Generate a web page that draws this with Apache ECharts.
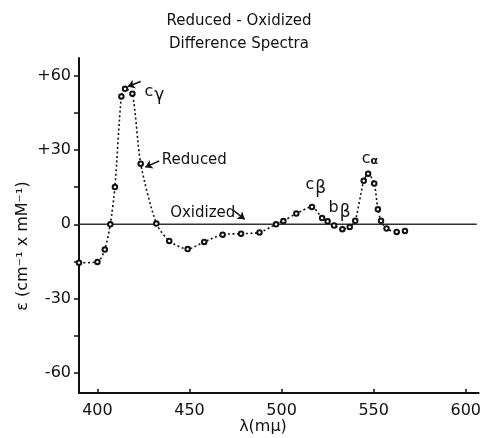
<!DOCTYPE html>
<html>
<head>
<meta charset="utf-8">
<script src="https://cdn.jsdelivr.net/npm/echarts@6/dist/echarts.min.js"></script>
<style>
  html, body { margin: 0; padding: 0; background: #fff; }
  #chart { width: 484px; height: 438px; }
</style>
</head>
<body>
<div id="chart"></div>
<script>
"use strict";
// wavelength (m\u03bc) and extinction difference
const wavelengths = [390, 400, 404, 407, 409.5, 413, 415, 419, 423.5, 432, 439, 449, 458, 468, 478, 488, 497, 501, 508, 516.5, 522, 525, 528.5, 533, 537, 540, 544.6, 547, 550.3, 552.3, 554, 557, 562.5, 567];
const reduced = [-15.5, -15.2, -10.2, 0, 15, 51.5, 54.6, 52.6, 24.4, 0.3, -6.7, -10, -7.1, -4.2, -3.8, -3.3, 0, 1.3, 4.3, 7, 2.5, 1.2, -0.5, -2, -1.1, 1.4, 17.5, 20.4, 16.4, 6, 1.4, -1.7, -3.1, -2.7];
const oxidizedX = [390, 606];
const oxidizedY = [0, 0];
const xTicks = [400, 450, 500, 550, 600];
const yTicks = [-60, -30, 0, 30, 60];
const yMinorTicks = [-60, -45, -30, -15, 0, 15, 30, 45, 60];

// peak labels: text, x, y (data units)
const noteText = ["c|c}{g|\u03b3", "Reduced", "Oxidized", "c|c}{g|\u03b2", "c|b}{g|\u03b2", "c|c}{a|\u03b1"];
const noteX = [425.5, 435, 439.5, 513, 525.5, 543.5];
const noteY = [53.5, 26, 4.5, 16, 6.5, 26.5];
// arrows: from -> to (data units), curvature
const arrowFrom = [[423.5, 57.5], [433.5, 25.5], [474, 5.5]];
const arrowTo = [[416.5, 55.5], [426, 23], [480, 2]];
const arrowCurve = [-0.5, 0, -0.6];

const ink = "#111";
const font = "DejaVu Sans";

const chart = echarts.init(document.getElementById("chart"));

const reducedData = wavelengths.map((w, i) => [w, reduced[i]]);
const oxidizedData = oxidizedX.map((w, i) => [w, oxidizedY[i]]);
const notes = noteText.map((t, i) => ({
  name: t.indexOf("|") >= 0 ? "{" + t + "}" : t,
  value: [noteX[i], noteY[i]]
}));
const arrows = arrowFrom.map((f, i) => [
  { coord: f, lineStyle: { curveness: arrowCurve[i] } },
  { coord: arrowTo[i] }
]);

const option = {
  animation: false,
  backgroundColor: "#fff",
  title: {
    text: "Reduced - Oxidized\nDifference Spectra",
    left: 234,
    top: 5,
    textAlign: "center",
    textStyle: { fontFamily: font, fontSize: 15, fontWeight: "normal", color: ink, lineHeight: 23 }
  },
  grid: { left: 79, top: 58, width: 405, height: 335 },
  xAxis: {
    type: "value",
    min: 390,
    max: 607,
    axisLine: { onZero: false, lineStyle: { color: ink, width: 2 } },
    axisTick: { show: true, inside: true, length: 4, customValues: xTicks, lineStyle: { color: ink, width: 1.5 } },
    axisLabel: { customValues: xTicks, margin: 10, fontFamily: font, fontSize: 16, color: ink },
    splitLine: { show: false }
  },
  yAxis: {
    type: "value",
    min: -68,
    max: 67,
    axisLine: { show: true, onZero: false, lineStyle: { color: ink, width: 2 } },
    axisTick: { show: true, length: 5, customValues: yMinorTicks, lineStyle: { color: ink, width: 1.5 } },
    axisLabel: {
      customValues: yTicks,
      margin: 8,
      fontFamily: font,
      fontSize: 16,
      color: ink,
      formatter: (v) => (v > 0 ? "+" + v : String(v))
    },
    splitLine: { show: false }
  },
  graphic: [
    {
      type: "text",
      x: 263,
      y: 427,
      style: { text: "\u03bb(m\u03bc)", font: "16px " + font, fill: ink, align: "center", verticalAlign: "middle" }
    },
    {
      type: "text",
      x: 23,
      y: 246,
      rotation: Math.PI / 2,
      style: { text: "\u03b5 (cm\u207b\u00b9 x mM\u207b\u00b9)", font: "16px " + font, fill: ink, align: "center", verticalAlign: "middle" }
    }
  ],
  series: [
    {
      name: "Oxidized",
      type: "line",
      data: oxidizedData,
      symbol: "none",
      lineStyle: { color: "#333", width: 1.6 },
      z: 2,
      markLine: {
        silent: true,
        symbol: ["none", "arrow"],
        symbolSize: 7,
        label: { show: false },
        lineStyle: { color: ink, width: 1.5, type: "solid" },
        data: arrows
      }
    },
    {
      name: "Reduced",
      type: "line",
      data: reducedData,
      smooth: 0.25,
      symbol: "emptyCircle",
      symbolSize: 4.5,
      showAllSymbol: true,
      itemStyle: { color: ink, borderWidth: 1.1 },
      lineStyle: { color: ink, width: 1.6, type: [2, 2.5] },
      z: 3
    },
    {
      name: "notes",
      type: "scatter",
      data: notes,
      symbolSize: 0,
      itemStyle: { opacity: 1 },
      z: 4,
      label: {
        show: true,
        position: "right",
        distance: 0,
        formatter: (p) => p.name,
        fontFamily: font,
        fontSize: 15,
        color: ink,
        textBorderWidth: 0,
        rich: {
          c: { fontFamily: font, fontSize: 16, color: ink, textBorderWidth: 0 },
          g: { fontFamily: font, fontSize: 17, color: ink, textBorderWidth: 0, verticalAlign: "top", padding: [8, 0, 0, 1] },
          a: { fontFamily: font, fontSize: 11, fontWeight: "bold", color: ink, textBorderWidth: 0, padding: [6, 0, 0, 0] }
        }
      }
    }
  ]
};

chart.setOption(option);
</script>
</body>
</html>
